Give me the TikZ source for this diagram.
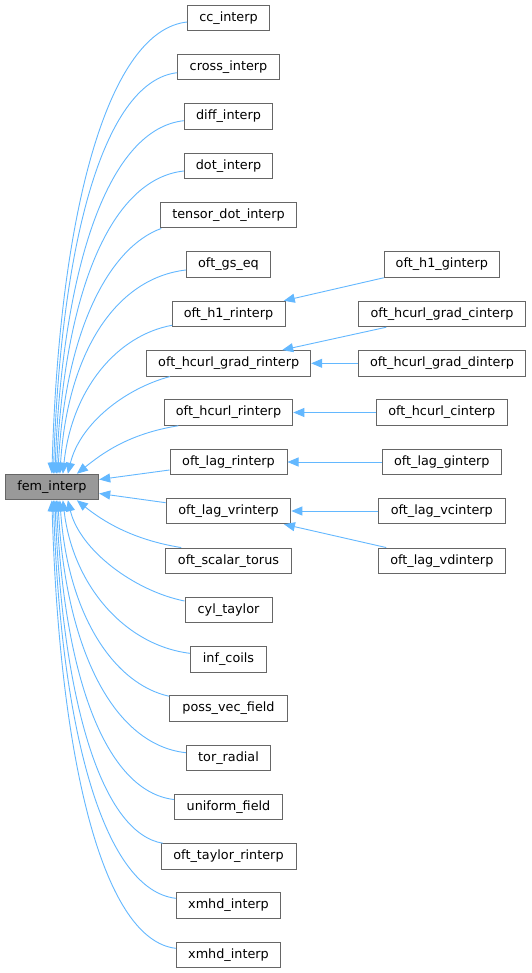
\documentclass[tikz,border=0pt]{standalone}
\usepackage{fontspec}
\setmainfont{DejaVu Sans}
\usetikzlibrary{arrows.meta,calc}
\definecolor{edgeblue}{HTML}{63B8FF}
\definecolor{boxline}{HTML}{666666}
\definecolor{basefill}{HTML}{999999}
\begin{document}
\begin{tikzpicture}[x=1pt,y=-1pt,
  box/.style={draw=boxline,line width=1pt,fill=white,inner sep=0pt,minimum height=25.5pt,
    text height=9.6pt,text depth=2.8pt,font=\fontsize{12.8}{15}\selectfont},
  basebox/.style={box,fill=basefill},
  edge/.style={draw=edgeblue,line width=0.9pt,-{Triangle[length=11pt,width=9pt]}}]
\useasboundingbox (0,0) rectangle (531,973);
\fill[white] (0,0) rectangle (531,973);
% base
\node[basebox,minimum width=93.7pt] (fem) at (51.85,487) {fem\_interp};
% middle column
\node[box,minimum width=81.6pt]  (cc)   at (228.5,17.8)  {cc\_interp};
\node[box,minimum width=101.6pt] (cross) at (228.5,67.2) {cross\_interp};
\node[box,minimum width=88.4pt]  (diff) at (228.5,116.5) {diff\_interp};
\node[box,minimum width=88.4pt]  (dot)  at (228.5,165.8) {dot\_interp};
\node[box,minimum width=136.4pt] (tens) at (228.5,215.2) {tensor\_dot\_interp};
\node[box,minimum width=84pt]    (gs)   at (228.5,264.5) {oft\_gs\_eq};
\node[box,minimum width=113pt]   (h1)   at (228.5,314)   {oft\_h1\_rinterp};
\node[box,minimum width=164pt]   (hgr)  at (228.7,363.3) {oft\_hcurl\_grad\_rinterp};
\node[box,minimum width=128.7pt] (hc)   at (228.5,412.5) {oft\_hcurl\_rinterp};
\node[box,minimum width=117pt]   (lr)   at (228.5,462)   {oft\_lag\_rinterp};
\node[box,minimum width=124.7pt] (lvr)  at (228.5,511)   {oft\_lag\_vrinterp};
\node[box,minimum width=125.6pt] (st)   at (228.5,560.8) {oft\_scalar\_torus};
\node[box,minimum width=87pt]    (cyl)  at (228.5,610)   {cyl\_taylor};
\node[box,minimum width=76.4pt]  (inf)  at (228.5,659.3) {inf\_coils};
\node[box,minimum width=117.6pt] (poss) at (228.5,708.5) {poss\_vec\_field};
\node[box,minimum width=84.4pt]  (tor)  at (228.5,758)   {tor\_radial};
\node[box,minimum width=108.4pt] (uni)  at (228.5,807.2) {uniform\_field};
\node[box,minimum width=135pt]   (tay)  at (228.5,856.5) {oft\_taylor\_rinterp};
\node[box,minimum width=104.4pt] (xm1)  at (228.5,905.5) {xmhd\_interp};
\node[box,minimum width=104.4pt] (xm2)  at (228.5,955)   {xmhd\_interp};
% right column
\node[box,minimum width=115pt]   (h1g)  at (441.8,264.5) {oft\_h1\_ginterp};
\node[box,minimum width=167.4pt] (hgc)  at (442,314)     {oft\_hcurl\_grad\_cinterp};
\node[box,minimum width=167.4pt] (hgd)  at (442,363.3)   {oft\_hcurl\_grad\_dinterp};
\node[box,minimum width=131pt]   (hcc)  at (441.8,412.5) {oft\_hcurl\_cinterp};
\node[box,minimum width=119pt]   (lg)   at (441.8,462)   {oft\_lag\_ginterp};
\node[box,minimum width=127pt]   (lvc)  at (441.8,511)   {oft\_lag\_vcinterp};
\node[box,minimum width=127pt]   (lvd)  at (441.8,560.8) {oft\_lag\_vdinterp};
% edges to base (top)
\draw[edge] ($(cc.west)+(0,4.2)$)    .. controls +(-77,8) and +(8,-271) .. ($(fem.north)+(0,0)$);
\draw[edge] ($(cross.west)+(0,5.5)$) .. controls +(-71,8) and +(8,-241) .. ($(fem.north)+(1.5,0)$);
\draw[edge] ($(diff.west)+(0,4.2)$)  .. controls +(-74,8) and +(8,-212) .. ($(fem.north)+(3,0)$);
\draw[edge] ($(dot.west)+(0,5.2)$)   .. controls +(-73,8) and +(8,-182) .. ($(fem.north)+(4.5,0)$);
\draw[edge] ($(tens.south west)+(1.5,0)$) .. controls +(-50,18) and +(8,-148) .. ($(fem.north)+(6,0)$);
\draw[edge] ($(gs.west)+(0,5.5)$)    .. controls +(-70,8) and +(8,-122) .. ($(fem.north)+(8,0)$);
\draw[edge] ($(h1.south west)+(0.7,-2)$) .. controls +(-55,10) and +(9,-85) .. ($(fem.north)+(11,0)$);
\draw[edge] ($(hgr.south)+(-58.7,0)$) .. controls +(-45,12) and +(12,-50) .. ($(fem.north)+(16,0)$);
\draw[edge] ($(hc.south)+(-50.2,0)$) .. controls +(-50,8) and +(25,-20) .. ($(fem.north)+(25,0)$);
% edges to base (side)
\draw[edge] ($(lr.west)+(0,8)$) -- ($(fem.east)+(0,-7.5)$);
\draw[edge] ($(lvr.west)+(0,-8.3)$) -- ($(fem.east)+(0,6.5)$);
% edges to base (bottom)
\draw[edge] ($(st.north west)+(16,0)$) .. controls +(-50,-8) and +(25,20) .. ($(fem.south)+(25,0)$);
\draw[edge] ($(cyl.west)+(0,-9)$)    .. controls +(-50,-10) and +(12,50) .. ($(fem.south)+(16,0)$);
\draw[edge] ($(inf.west)+(0,-6)$)    .. controls +(-65,-8) and +(10,85) .. ($(fem.south)+(11,0)$);
\draw[edge] ($(poss.north west)+(0,1)$) .. controls +(-55,-12) and +(8,115) .. ($(fem.south)+(8,0)$);
\draw[edge] ($(tor.west)+(0,-5.3)$)  .. controls +(-72,-8) and +(8,150) .. ($(fem.south)+(6,0)$);
\draw[edge] ($(uni.west)+(0,-7.7)$)  .. controls +(-67,-8) and +(8,180) .. ($(fem.south)+(4.5,0)$);
\draw[edge] ($(tay.north west)+(2.3,0)$) .. controls +(-60,-10) and +(8,206) .. ($(fem.south)+(3,0)$);
\draw[edge] ($(xm1.west)+(0,-7.2)$)  .. controls +(-70,-8) and +(8,239) .. ($(fem.south)+(1.5,0)$);
\draw[edge] ($(xm2.west)+(0,-6.7)$)  .. controls +(-71,-8) and +(8,269) .. ($(fem.south)+(0,0)$);
% right column edges
\draw[edge] (h1g.south west) -- ($(h1.north east)+(-1.7,0)$);
\draw[edge] ($(hgc.south west)+(28.4,0)$) -- ($(hgr.north east)+(-29,0)$);
\draw[edge] (hgd.west) -- (hgr.east);
\draw[edge] (hcc.west) -- (hc.east);
\draw[edge] (lg.west) -- (lr.east);
\draw[edge] (lvc.west) -- (lvr.east);
\draw[edge] ($(lvd.north west)+(8.4,0)$) -- ($(lvr.south east)+(-7.4,0)$);
\end{tikzpicture}
\end{document}
